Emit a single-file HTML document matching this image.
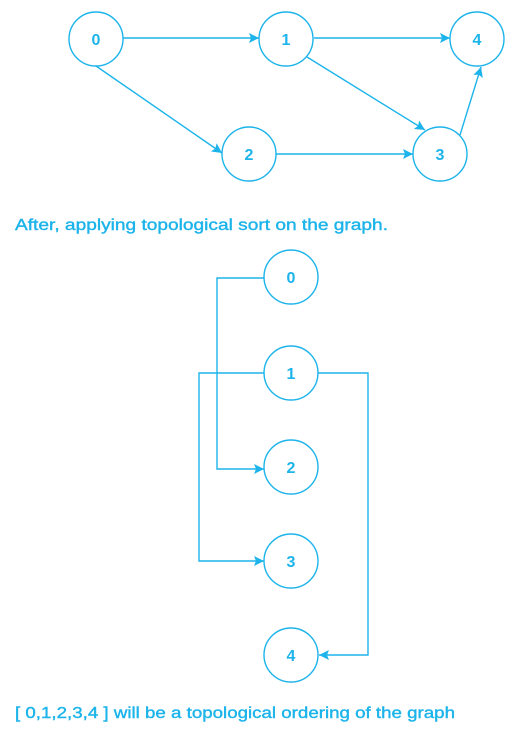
<!DOCTYPE html>
<html><head><style>html,body{margin:0;padding:0;background:#fff}svg{display:block}</style></head>
<body>
<svg width="512" height="729" viewBox="0 0 512 729" xmlns="http://www.w3.org/2000/svg">
<defs><marker id="a" viewBox="0 0 10 10" refX="10" refY="5" markerWidth="10" markerHeight="10" markerUnits="userSpaceOnUse" orient="auto"><path d="M0,0L10,5L0,10L2,5z" fill="#1cb4ea"/></marker></defs>
<g stroke="#1cb4ea" stroke-width="1.4" fill="none">
<circle cx="96" cy="39" r="27"/><circle cx="286" cy="39" r="27"/><circle cx="477" cy="39" r="27"/>
<circle cx="249" cy="154" r="27"/><circle cx="440" cy="154" r="27"/>
<line x1="123" y1="38" x2="259" y2="38" marker-end="url(#a)"/>
<line x1="314" y1="38" x2="450" y2="38" marker-end="url(#a)"/>
<line x1="96" y1="66" x2="222" y2="153" marker-end="url(#a)"/>
<line x1="276" y1="154" x2="413" y2="154" marker-end="url(#a)"/>
<line x1="307" y1="57" x2="425" y2="130" marker-end="url(#a)"/>
<line x1="460" y1="135" x2="481" y2="67" marker-end="url(#a)"/>
<circle cx="291" cy="277" r="27"/><circle cx="291" cy="373" r="27"/><circle cx="291" cy="467" r="27"/><circle cx="291" cy="561" r="27"/><circle cx="291" cy="655" r="27"/>
<polyline points="264,278 217,278 217,469 264,469" marker-end="url(#a)"/>
<polyline points="264,373 199,373 199,561 264,561" marker-end="url(#a)"/>
<polyline points="318,373 368,373 368,655 319,655" marker-end="url(#a)"/>
</g>
<g fill="#1cb4ea" font-family="Liberation Sans, sans-serif" font-size="16" font-weight="bold" text-anchor="middle">
<text x="96" y="45">0</text><text x="286" y="45">1</text><text x="477" y="45">4</text><text x="249" y="160">2</text><text x="440" y="160">3</text>
<text x="291" y="283">0</text><text x="291" y="379">1</text><text x="291" y="473">2</text><text x="291" y="567">3</text><text x="291" y="661">4</text>
</g>
<g fill="#1cb4ea" font-family="Liberation Sans, sans-serif" font-size="16">
<text x="15" y="230" textLength="373" lengthAdjust="spacingAndGlyphs" stroke="#1cb4ea" stroke-width="0.4">After, applying topological sort on the graph.</text>
<text x="15" y="718" textLength="440" lengthAdjust="spacingAndGlyphs" stroke="#1cb4ea" stroke-width="0.4">[ 0,1,2,3,4 ] will be a topological ordering of the graph</text>
</g>
</svg>
</body></html>
